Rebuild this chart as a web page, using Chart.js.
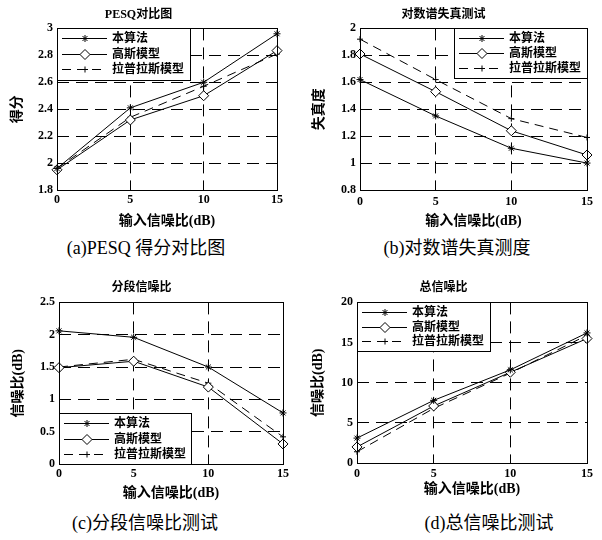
<!DOCTYPE html>
<html>
<head>
<meta charset="utf-8">
<script src="https://cdn.jsdelivr.net/npm/chart.js@4/dist/chart.umd.min.js"></script>
<style>
  html, body { margin: 0; padding: 0; background: #fff; }
  body { width: 602px; height: 540px; position: relative; overflow: hidden; }
  canvas { position: absolute; }
  .cap {
    position: absolute;
    font-family: "Liberation Serif", "Noto Sans CJK SC", serif;
    font-size: 18px;
    line-height: 22px;
    color: #000;
    white-space: nowrap;
    transform: translateX(-50%);
  }
</style>
</head>
<body>
<canvas id="panelA" width="300" height="230" style="left:0;top:0"></canvas>
<canvas id="panelB" width="302" height="230" style="left:300px;top:0"></canvas>
<canvas id="panelC" width="300" height="234" style="left:0;top:270px"></canvas>
<canvas id="panelD" width="302" height="233" style="left:300px;top:270px"></canvas>
<div class="cap" style="left:146px;top:237px">(a)PESQ 得分对比图</div>
<div class="cap" style="left:457px;top:237px">(b)对数谱失真测度</div>
<div class="cap" style="left:145px;top:512px">(c)分段信噪比测试</div>
<div class="cap" style="left:489px;top:512px">(d)总信噪比测试</div>
<script>
// Input SNR levels (dB) shared by all four panels
const snrLevels = [0, 5, 10, 15];
const xTickLabels = ['0', '5', '10', '15'];
const seriesNames = ['本算法', '高斯模型', '拉普拉斯模型'];

// (a) PESQ score
const pesqProposed = [1.96, 2.41, 2.60, 2.96];
const pesqGauss    = [1.95, 2.32, 2.50, 2.835];
const pesqLaplace  = [1.96, 2.34, 2.57, 2.81];
const pesqTicks = ['1.8', '2', '2.2', '2.4', '2.6', '2.8', '3'];

// (b) log-spectral distortion
const lsdProposed = [1.62, 1.35, 1.11, 1.00];
const lsdGauss    = [1.81, 1.53, 1.24, 1.06];
const lsdLaplace  = [1.92, 1.62, 1.33, 1.19];
const lsdTicks = ['0.8', '1', '1.2', '1.4', '1.6', '1.8', '2'];

// (c) segmental SNR
const segProposed = [2.06, 1.96, 1.50, 0.79];
const segGauss    = [1.49, 1.59, 1.19, 0.31];
const segLaplace  = [1.50, 1.62, 1.25, 0.42];
const segTicks = ['0', '0.5', '1', '1.5', '2', '2.5'];

// (d) overall SNR
const totProposed = [3.1, 7.8, 11.6, 16.2];
const totGauss    = [2.0, 7.1, 11.3, 15.5];
const totLaplace  = [1.4, 6.8, 11.2, 15.9];
const totTicks = ['0', '5', '10', '15', '20'];

const FAMILY = '"Liberation Serif", "Noto Sans CJK SC", serif';
const BOLD = { family: FAMILY, weight: 'bold' };

// solid frame around the plotting area
const plotFrame = {
  id: 'plotFrame',
  afterDatasetsDraw(chart) {
    const { ctx, chartArea: a } = chart;
    ctx.save();
    ctx.strokeStyle = '#000';
    ctx.lineWidth = 1;
    ctx.setLineDash([]);
    ctx.strokeRect(Math.round(a.left) + 0.5, Math.round(a.top) + 0.5,
      Math.round(a.right - a.left), Math.round(a.bottom - a.top));
    ctx.restore();
  }
};

// boxed legend placed inside a corner of the plotting area
const insetLegend = {
  id: 'insetLegend',
  afterDraw(chart, args, opts) {
    const { ctx, chartArea: a } = chart;
    const w = opts.width, h = opts.height;
    const x = Math.round(opts.corner.includes('r') ? a.right - w : a.left);
    const y = Math.round(opts.corner.includes('b') ? a.bottom - h : a.top);
    ctx.save();
    ctx.fillStyle = '#fff';
    ctx.fillRect(x, y, w, h);
    ctx.strokeStyle = '#000';
    ctx.lineWidth = 1;
    ctx.setLineDash([]);
    ctx.strokeRect(x + 0.5, y + 0.5, w, h);
    chart.data.datasets.forEach((ds, i) => {
      const ry = Math.round(y + opts.rowTop + i * opts.rowGap) + 0.5;
      ctx.strokeStyle = '#000';
      ctx.lineWidth = 1;
      ctx.setLineDash(ds.borderDash || []);
      ctx.beginPath();
      ctx.moveTo(x + 5, ry);
      ctx.lineTo(x + 50, ry);
      ctx.stroke();
      ctx.setLineDash([]);
      ctx.fillStyle = '#fff';
      Chart.helpers.drawPoint(ctx, {
        pointStyle: ds.pointStyle, radius: ds.pointRadius, borderWidth: 1, rotation: 0
      }, x + 28, ry);
      ctx.fillStyle = '#000';
      ctx.font = 'bold 12px ' + FAMILY;
      ctx.textBaseline = 'middle';
      ctx.textAlign = 'left';
      ctx.fillText(ds.label, x + 55, ry);
    });
    ctx.restore();
  }
};

function series(label, values, style, radius, dash) {
  return {
    label,
    data: snrLevels.map((x, i) => ({ x, y: values[i] })),
    borderColor: '#000',
    borderWidth: 1,
    borderDash: dash,
    pointStyle: style,
    pointRadius: radius,
    pointBorderColor: '#000',
    pointBackgroundColor: '#fff',
    pointBorderWidth: 1,
    tension: 0,
    clip: false
  };
}

function makePanel(id, cfg) {
  const yVals = cfg.yTicks.map(Number);
  return new Chart(document.getElementById(id), {
    type: 'line',
    data: {
      datasets: [
        series(seriesNames[0], cfg.values[0], 'star', 3.5, []),
        series(seriesNames[1], cfg.values[1], 'rectRot', 5, []),
        series(seriesNames[2], cfg.values[2], 'cross', 3, [9, 6])
      ]
    },
    options: {
      responsive: false,
      animation: false,
      devicePixelRatio: 1,
      events: [],
      layout: { padding: { left: 0, right: cfg.padRight, top: 0, bottom: 0 } },
      plugins: {
        legend: { display: false },
        tooltip: { enabled: false },
        title: {
          display: true,
          text: cfg.title,
          color: '#000',
          font: { ...BOLD, size: 12 },
          padding: { top: cfg.titleTop, bottom: cfg.titleBottom }
        },
        insetLegend: cfg.legend
      },
      scales: {
        x: {
          type: 'linear',
          min: 0,
          max: 15,
          afterBuildTicks: s => { s.ticks = snrLevels.map(v => ({ value: v })); },
          afterFit: s => { s.height = cfg.xHeight; },
          ticks: {
            callback: (v, i) => xTickLabels[i],
            color: '#000',
            font: { ...BOLD, size: 12 },
            padding: cfg.xTickPad,
            maxRotation: 0,
            autoSkip: false
          },
          grid: { color: '#000', lineWidth: 1, drawTicks: false },
          border: { display: false, dash: [12, 7] },
          title: {
            display: true,
            text: '输入信噪比(dB)',
            color: '#000',
            font: { ...BOLD, size: 14 },
            padding: { top: 0, bottom: cfg.xTitlePad }
          }
        },
        y: {
          type: 'linear',
          min: yVals[0],
          max: yVals[yVals.length - 1],
          afterBuildTicks: s => { s.ticks = yVals.map(v => ({ value: v })); },
          afterFit: s => { s.width = cfg.yWidth; },
          ticks: {
            callback: (v, i) => cfg.yTicks[i],
            color: '#000',
            font: { ...BOLD, size: 12 },
            padding: 4,
            autoSkip: false
          },
          grid: { color: '#000', lineWidth: 1, drawTicks: false },
          border: { display: false, dash: [12, 7] },
          title: {
            display: true,
            text: cfg.yTitle,
            color: '#000',
            font: { ...BOLD, size: 14 },
            padding: { top: cfg.yTitlePad, bottom: 0 }
          }
        }
      }
    },
    plugins: [plotFrame, insetLegend]
  });
}

makePanel('panelA', {
  title: 'PESQ对比图', yTitle: '得分', yTicks: pesqTicks,
  values: [pesqProposed, pesqGauss, pesqLaplace],
  yWidth: 57, padRight: 23, titleTop: 8, titleBottom: 6,
  xHeight: 40, xTickPad: 3, xTitlePad: 0, yTitlePad: 9,
  legend: { corner: 'tl', width: 133, height: 52, rowTop: 10, rowGap: 15.5 }
});

makePanel('panelB', {
  title: '对数谱失真测试', yTitle: '失真度', yTicks: lsdTicks,
  values: [lsdProposed, lsdGauss, lsdLaplace],
  yWidth: 60, padRight: 15, titleTop: 8, titleBottom: 6,
  xHeight: 40, xTickPad: 5, xTitlePad: 0, yTitlePad: 11,
  legend: { corner: 'tr', width: 133, height: 50, rowTop: 10, rowGap: 15 }
});

makePanel('panelC', {
  title: '分段信噪比', yTitle: '信噪比(dB)', yTicks: segTicks,
  values: [segProposed, segGauss, segLaplace],
  yWidth: 59, padRight: 17, titleTop: 11, titleBottom: 7,
  xHeight: 40, xTickPad: 3, xTitlePad: 2, yTitlePad: 10,
  legend: { corner: 'bl', width: 132, height: 51, rowTop: 10, rowGap: 15.5 }
});

makePanel('panelD', {
  title: '总信噪比', yTitle: '信噪比(dB)', yTicks: totTicks,
  values: [totProposed, totGauss, totLaplace],
  yWidth: 57, padRight: 15, titleTop: 11, titleBottom: 7,
  xHeight: 40, xTickPad: 4, xTitlePad: 5, yTitlePad: 10,
  legend: { corner: 'tl', width: 133, height: 49, rowTop: 10, rowGap: 14.5 }
});
</script>
</body>
</html>
